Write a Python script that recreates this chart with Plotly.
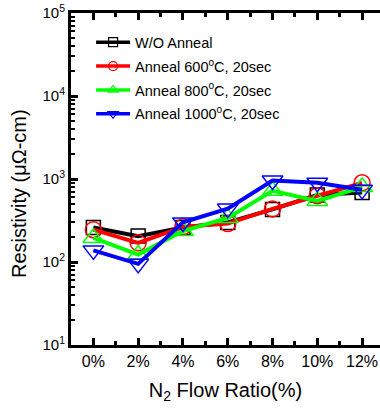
import plotly.graph_objects as go

x_vals = [0, 2, 4, 6, 8, 10, 12]
wo_anneal = [260, 205, 260, 300, 430, 640, 690]
anneal_600 = [245, 170, 265, 290, 436, 630, 900]
anneal_800 = [195, 123, 236, 340, 720, 545, 800]
anneal_1000 = [138, 95, 300, 440, 960, 900, 740]
series_names = ["W/O Anneal", "Anneal 600<sup>o</sup>C, 20sec",
                "Anneal 800<sup>o</sup>C, 20sec", "Anneal 1000<sup>o</sup>C, 20sec"]
y_tickvals = [10, 100, 1000, 10000, 100000]
y_ticktext = ["10<sup>1</sup>", "10<sup>2</sup>", "10<sup>3</sup>", "10<sup>4</sup>", "10<sup>5</sup>"]

series = [wo_anneal, anneal_600, anneal_800, anneal_1000]
colors = ["#000000", "#FF0000", "#00FF00", "#0000FF"]
symbols = ["square-open", "circle-open", "triangle-up-open", "triangle-down-open"]
msizes = [14, 16, 18, 18]

y_minor = [m * 10 ** d for d in range(1, 5) for m in range(2, 10)]
x_minor = [1, 3, 5, 7, 9, 11]

fig = go.Figure()
for i, (ys, name, c, s, ms) in enumerate(zip(series, series_names, colors, symbols, msizes)):
    fig.add_trace(go.Scatter(
        x=x_vals, y=ys, name=name, mode="lines+markers", showlegend=False,
        line=dict(color=c, width=4),
        marker=dict(symbol=s, size=ms, color=c, line=dict(width=1.5, color=c)),
    ))
for i, (name, c, s) in enumerate(zip(series_names, colors, symbols)):
    fig.add_trace(go.Scatter(
        x=[None], y=[None], name=name, mode="lines+markers", legendgroup=str(i),
        line=dict(color=c, width=3.5),
        marker=dict(symbol=s, size=9, color=c, line=dict(width=1.2, color=c)),
    ))

font_family = "Liberation Sans, Arial, sans-serif"
fig.update_layout(
    width=380, height=412,
    margin=dict(l=71, r=0, t=13, b=67),
    paper_bgcolor="white", plot_bgcolor="white",
    font=dict(family=font_family, color="black", size=15),
    showlegend=True,
    legend=dict(x=0.065, y=0.96, xanchor="left", yanchor="top",
                bgcolor="rgba(0,0,0,0)", font=dict(size=14.5),
                traceorder="grouped", tracegroupgap=2, itemwidth=34),
    xaxis=dict(
        range=[-1, 12.8], tick0=0, dtick=2, ticksuffix="%",
        showgrid=False, zeroline=False,
        showline=True, linewidth=3, linecolor="black", mirror="ticks",
        ticks="inside", ticklen=7, tickwidth=2.5, tickcolor="black",
        minor=dict(tickvals=x_minor, ticks="inside", ticklen=4, tickwidth=2.5, tickcolor="black"),
        tickfont=dict(size=16),
        title=dict(text="N<sub>2</sub> Flow Ratio(%)", font=dict(size=20), standoff=14),
    ),
    yaxis=dict(
        type="log", range=[1, 5], tickvals=y_tickvals, ticktext=y_ticktext,
        showgrid=False, zeroline=False,
        showline=True, linewidth=3, linecolor="black",
        ticks="inside", ticklen=7, tickwidth=2.5, tickcolor="black",
        minor=dict(tickvals=y_minor, ticks="inside", ticklen=4, tickwidth=2, tickcolor="black"),
        tickfont=dict(size=15),
    ),
    annotations=[dict(
        text="Resistivity (\u03bc\u03a9-cm)", textangle=-90,
        xref="paper", yref="paper", x=-0.168, y=0.455,
        xanchor="center", yanchor="middle", showarrow=False,
        font=dict(size=20),
    )],
)

fig.write_html("out.html")
